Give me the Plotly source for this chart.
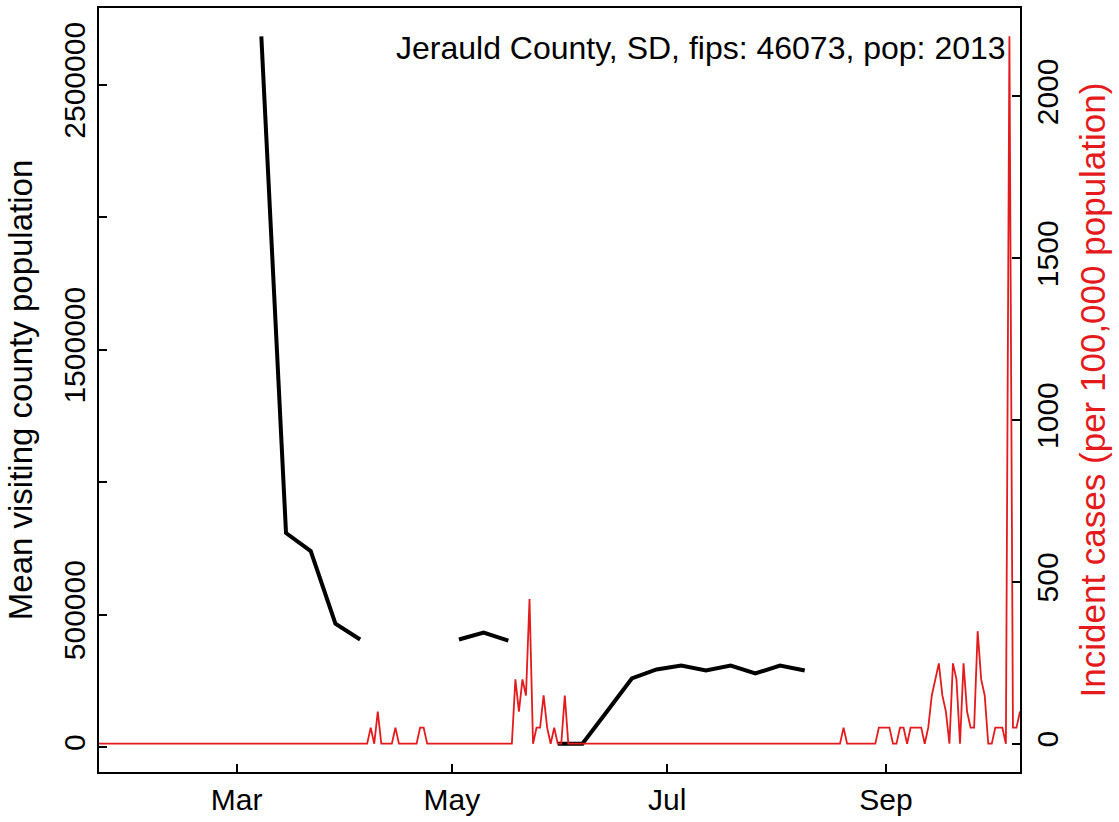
import pandas as pd
import plotly.graph_objects as go

# ---------------- data ----------------
county_label = "Jerauld County, SD, fips: 46073, pop: 2013"
population = 2013

# weekly mean visiting county population (None = missing week)
visit_dates = ["2020-03-08", "2020-03-15", "2020-03-22", "2020-03-29", "2020-04-05",
               "2020-04-12", "2020-04-19", "2020-04-26", "2020-05-03", "2020-05-10",
               "2020-05-17", "2020-05-24", "2020-05-31", "2020-06-07", "2020-06-14",
               "2020-06-21", "2020-06-28", "2020-07-05", "2020-07-12", "2020-07-19",
               "2020-07-26", "2020-08-02", "2020-08-09"]
visit_values = [2683000, 808000, 740000, 466000, 406000,
                None, None, None, 406000, 432000,
                402000, None, 12800, 12800, 135000,
                259000, 293000, 308000, 289000, 308000,
                278000, 308000, 289000]

# daily new cases (days not listed had 0 new cases)
series_start = "2020-01-22"
series_end = "2020-10-09"
case_dates = ["2020-04-08", "2020-04-10", "2020-04-15", "2020-04-22", "2020-04-23",
              "2020-05-19", "2020-05-20", "2020-05-21", "2020-05-22", "2020-05-23",
              "2020-05-25", "2020-05-26", "2020-05-27", "2020-05-28", "2020-05-30",
              "2020-06-02", "2020-08-20", "2020-08-30", "2020-08-31", "2020-09-01",
              "2020-09-02", "2020-09-05", "2020-09-06", "2020-09-08", "2020-09-09",
              "2020-09-10", "2020-09-11", "2020-09-13", "2020-09-14", "2020-09-15",
              "2020-09-16", "2020-09-17", "2020-09-18", "2020-09-20", "2020-09-21",
              "2020-09-23", "2020-09-24", "2020-09-25", "2020-09-26", "2020-09-27",
              "2020-09-28", "2020-09-29", "2020-10-02", "2020-10-03", "2020-10-04",
              "2020-10-06", "2020-10-07", "2020-10-08", "2020-10-09"]
case_counts = [1, 2, 1, 1, 1,
               4, 2, 4, 3, 9,
               1, 1, 3, 1, 1,
               3, 1, 1, 1, 1,
               1, 1, 1, 1, 1,
               1, 1, 1, 3, 4,
               5, 3, 2, 5, 4,
               5, 2, 1, 1, 7,
               4, 3, 1, 1, 1,
               44, 1, 1, 2]

x_tick_dates = ["2020-03-01", "2020-05-01", "2020-07-01", "2020-09-01"]
x_tick_labels = ["Mar", "May", "Jul", "Sep"]
left_tick_vals = [0, 500000, 1000000, 1500000, 2000000, 2500000]
left_tick_text = ["0", "500000", "", "1500000", "", "2500000"]
right_tick_vals = [0, 500, 1000, 1500, 2000]
right_tick_text = ["0", "500", "1000", "1500", "2000"]

# ---------------- build series ----------------
days = pd.date_range(series_start, series_end, freq="D")
cases = pd.Series(0.0, index=days)
cases.loc[pd.to_datetime(case_dates)] = case_counts
incidence = cases * 100000 / population

RED = "#E41A1C"
FONT = "Liberation Sans, Arial, sans-serif"
FS_TICK = 30
FS_LTITLE = 33
FS_RTITLE = 35
FS_NOTE = 32


def padded(lo, hi, frac=0.04):
    span = hi - lo
    return [lo - frac * span, hi + frac * span]


vv = [v for v in visit_values if v is not None]
left_range = padded(min(vv), max(vv))
right_range = padded(float(incidence.min()), float(incidence.max()))

fig = go.Figure()
fig.add_trace(go.Scatter(x=pd.to_datetime(visit_dates), y=visit_values, mode="lines",
                         line=dict(color="black", width=4), connectgaps=False,
                         yaxis="y", showlegend=False))
fig.add_trace(go.Scatter(x=incidence.index, y=incidence.values, mode="lines",
                         line=dict(color=RED, width=1.8), yaxis="y2", showlegend=False))

axis_common = dict(showgrid=False, zeroline=False, showline=True, linecolor="black",
                   linewidth=1.5, ticks="inside", ticklen=8, tickwidth=1.5,
                   tickcolor="black", tickfont=dict(family=FONT, size=FS_TICK, color="black"))

fig.update_layout(
    width=1119, height=822,
    margin=dict(l=99, r=99, t=6, b=49),
    paper_bgcolor="white", plot_bgcolor="white",
    font=dict(family=FONT, size=FS_TICK, color="black"),
    xaxis=dict(**axis_common, type="date",
               range=[pd.Timestamp(series_start), pd.Timestamp(series_end)],
               tickvals=pd.to_datetime(x_tick_dates), ticktext=x_tick_labels,
               mirror=True),
    yaxis=dict(**axis_common, range=left_range, tickvals=left_tick_vals,
               ticktext=left_tick_text, tickangle=-90,
               title=dict(text="Mean visiting county population",
                          font=dict(family=FONT, size=FS_LTITLE, color="black"), standoff=16)),
    yaxis2=dict(**axis_common, overlaying="y", side="right", range=right_range,
                tickvals=right_tick_vals, ticktext=right_tick_text, tickangle=-90,
                title=dict(text="Incident cases (per 100,000 population)",
                           font=dict(family=FONT, size=FS_RTITLE, color=RED), standoff=18)),
    annotations=[dict(text=county_label, xref="paper", yref="paper", x=1, y=1,
                      xanchor="right", yanchor="top", xshift=-12, yshift=-20,
                      showarrow=False, font=dict(family=FONT, size=FS_NOTE, color="black"))],
)

fig.write_html("out.html", config={"displayModeBar": False},
               post_script="document.body.style.margin='0px';document.body.style.padding='0px';")
